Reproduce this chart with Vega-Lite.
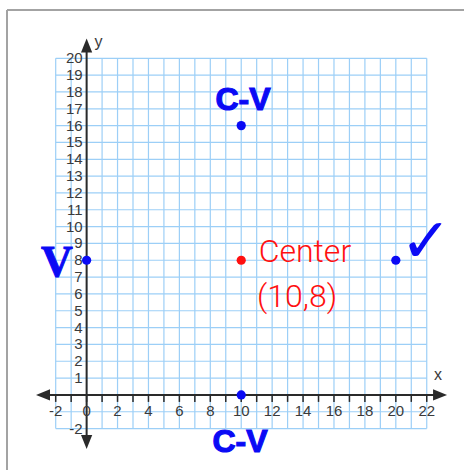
{
  "$schema": "https://vega.github.io/schema/vega-lite/v6.json",
  "width": 464,
  "height": 470,
  "autosize": {"type": "none"},
  "padding": 0,
  "background": "white",
  "config": {"view": {"stroke": null}},
  "datasets": {
    "frame": [
      {"x": -5.15, "x2": 24.41, "y": 22.87, "y2": 22.87},
      {"x": -5.15, "x2": -5.15, "y": 22.87, "y2": -4.46}
    ],
    "gridX": [
      {"v": -2}, {"v": -1}, {"v": 0}, {"v": 1}, {"v": 2}, {"v": 3}, {"v": 4}, {"v": 5}, {"v": 6},
      {"v": 7}, {"v": 8}, {"v": 9}, {"v": 10}, {"v": 11}, {"v": 12}, {"v": 13}, {"v": 14},
      {"v": 15}, {"v": 16}, {"v": 17}, {"v": 18}, {"v": 19}, {"v": 20}, {"v": 21}, {"v": 22}
    ],
    "gridY": [
      {"v": -2}, {"v": -1}, {"v": 0}, {"v": 1}, {"v": 2}, {"v": 3}, {"v": 4}, {"v": 5}, {"v": 6},
      {"v": 7}, {"v": 8}, {"v": 9}, {"v": 10}, {"v": 11}, {"v": 12}, {"v": 13}, {"v": 14},
      {"v": 15}, {"v": 16}, {"v": 17}, {"v": 18}, {"v": 19}, {"v": 20}
    ],
    "axes": [
      {"x": -2.82, "x2": 22.86, "y": 0, "y2": 0},
      {"x": 0, "x2": 0, "y": -2.8, "y2": 20.76}
    ],
    "arrows": [
      {"x": -2.82, "y": 0, "dir": "left"},
      {"x": 22.86, "y": 0, "dir": "right"},
      {"x": 0, "y": 20.76, "dir": "up"},
      {"x": 0, "y": -2.8, "dir": "down"}
    ],
    "xLabels": [
      {"v": -2, "t": "-2"}, {"v": 0, "t": "0"}, {"v": 2, "t": "2"}, {"v": 4, "t": "4"},
      {"v": 6, "t": "6"}, {"v": 8, "t": "8"}, {"v": 10, "t": "10"}, {"v": 12, "t": "12"},
      {"v": 14, "t": "14"}, {"v": 16, "t": "16"}, {"v": 18, "t": "18"}, {"v": 20, "t": "20"},
      {"v": 22, "t": "22"}
    ],
    "yLabels": [
      {"v": -2, "t": "-2"}, {"v": 1, "t": "1"}, {"v": 2, "t": "2"}, {"v": 3, "t": "3"},
      {"v": 4, "t": "4"}, {"v": 5, "t": "5"}, {"v": 6, "t": "6"}, {"v": 7, "t": "7"},
      {"v": 8, "t": "8"}, {"v": 9, "t": "9"}, {"v": 10, "t": "10"}, {"v": 11, "t": "11"},
      {"v": 12, "t": "12"}, {"v": 13, "t": "13"}, {"v": 14, "t": "14"}, {"v": 15, "t": "15"},
      {"v": 16, "t": "16"}, {"v": 17, "t": "17"}, {"v": 18, "t": "18"}, {"v": 19, "t": "19"},
      {"v": 20, "t": "20"}
    ],
    "axisNames": [
      {"x": 22.73, "y": 1.18, "t": "x"},
      {"x": 0.77, "y": 20.97, "t": "y"}
    ],
    "points": [
      {"x": 0, "y": 8, "role": "vertex"},
      {"x": 20, "y": 8, "role": "vertex"},
      {"x": 10, "y": 16, "role": "co-vertex"},
      {"x": 10, "y": 0, "role": "co-vertex"},
      {"x": 10, "y": 8, "role": "center"}
    ],
    "blueNotes": [
      {"x": 10.11, "y": 17.52, "t": "C-V"},
      {"x": 9.92, "y": -2.82, "t": "C-V"}
    ],
    "vertexMarks": [
      {"x": -1.92, "y": 7.85, "t": "V"}
    ],
    "checks": [
      {"x": 21.95, "y": 9.0, "t": "✓"}
    ],
    "redNotes": [
      {"x": 14.12, "y": 8.49, "t": "Center"},
      {"x": 13.61, "y": 5.82, "t": "(10,8)"}
    ]
  },
  "layer": [
    {
      "data": {"name": "frame"},
      "mark": {"type": "rule", "color": "#a3a3a3", "strokeWidth": 2},
      "encoding": {
        "x": {"field": "x", "type": "quantitative", "scale": {"domain": [-5.603, 24.41], "nice": false, "zero": false}, "axis": null},
        "x2": {"field": "x2"},
        "y": {"field": "y", "type": "quantitative", "scale": {"domain": [-4.462, 23.464], "nice": false, "zero": false}, "axis": null},
        "y2": {"field": "y2"}
      }
    },
    {
      "data": {"name": "gridX"},
      "mark": {"type": "rule", "color": "#9ccff7", "strokeWidth": 1.2},
      "encoding": {
        "x": {"field": "v", "type": "quantitative", "scale": {"domain": [-5.603, 24.41], "nice": false, "zero": false}, "axis": null},
        "y": {"datum": -2, "type": "quantitative", "scale": {"domain": [-4.462, 23.464], "nice": false, "zero": false}, "axis": null},
        "y2": {"datum": 20}
      }
    },
    {
      "data": {"name": "gridY"},
      "mark": {"type": "rule", "color": "#9ccff7", "strokeWidth": 1.2},
      "encoding": {
        "y": {"field": "v", "type": "quantitative", "scale": {"domain": [-4.462, 23.464], "nice": false, "zero": false}, "axis": null},
        "x": {"datum": -2, "type": "quantitative", "scale": {"domain": [-5.603, 24.41], "nice": false, "zero": false}, "axis": null},
        "x2": {"datum": 22}
      }
    },
    {
      "data": {"name": "axes"},
      "mark": {"type": "rule", "color": "#2a2a2a", "strokeWidth": 2},
      "encoding": {
        "x": {"field": "x", "type": "quantitative", "scale": {"domain": [-5.603, 24.41], "nice": false, "zero": false}, "axis": null},
        "x2": {"field": "x2"},
        "y": {"field": "y", "type": "quantitative", "scale": {"domain": [-4.462, 23.464], "nice": false, "zero": false}, "axis": null},
        "y2": {"field": "y2"}
      }
    },
    {
      "data": {"name": "gridX"},
      "mark": {"type": "tick", "orient": "vertical", "color": "#2a2a2a", "thickness": 1.5, "size": 7, "yOffset": 3.5, "opacity": 1},
      "encoding": {
        "x": {"field": "v", "type": "quantitative", "scale": {"domain": [-5.603, 24.41], "nice": false, "zero": false}, "axis": null},
        "y": {"datum": 0, "type": "quantitative", "scale": {"domain": [-4.462, 23.464], "nice": false, "zero": false}, "axis": null}
      }
    },
    {
      "data": {"name": "arrows"},
      "mark": {"type": "point", "filled": true, "color": "#2a2a2a", "opacity": 1, "size": 196},
      "encoding": {
        "x": {"field": "x", "type": "quantitative", "scale": {"domain": [-5.603, 24.41], "nice": false, "zero": false}, "axis": null},
        "y": {"field": "y", "type": "quantitative", "scale": {"domain": [-4.462, 23.464], "nice": false, "zero": false}, "axis": null},
        "shape": {
          "field": "dir",
          "type": "nominal",
          "legend": null,
          "scale": {
            "domain": ["left", "right", "up", "down"],
            "range": ["M1,-0.8L-1,0L1,0.8Z", "M-1,-0.8L1,0L-1,0.8Z", "M-0.8,1L0,-1L0.8,1Z", "M-0.8,-1L0,1L0.8,-1Z"]
          }
        }
      }
    },
    {
      "data": {"name": "xLabels"},
      "mark": {"type": "text", "font": "Liberation Sans", "fontSize": 15, "color": "#3a3a3a", "align": "center", "baseline": "middle", "dy": 16},
      "encoding": {
        "x": {"field": "v", "type": "quantitative", "scale": {"domain": [-5.603, 24.41], "nice": false, "zero": false}, "axis": null},
        "y": {"datum": 0, "type": "quantitative", "scale": {"domain": [-4.462, 23.464], "nice": false, "zero": false}, "axis": null},
        "text": {"field": "t", "type": "nominal"}
      }
    },
    {
      "data": {"name": "yLabels"},
      "mark": {"type": "text", "font": "Liberation Sans", "fontSize": 15, "color": "#3a3a3a", "align": "right", "baseline": "middle", "dx": -4},
      "encoding": {
        "y": {"field": "v", "type": "quantitative", "scale": {"domain": [-4.462, 23.464], "nice": false, "zero": false}, "axis": null},
        "x": {"datum": 0, "type": "quantitative", "scale": {"domain": [-5.603, 24.41], "nice": false, "zero": false}, "axis": null},
        "text": {"field": "t", "type": "nominal"}
      }
    },
    {
      "data": {"name": "axisNames"},
      "mark": {"type": "text", "font": "Liberation Sans", "fontSize": 16, "color": "#3a3a3a", "align": "center", "baseline": "middle"},
      "encoding": {
        "x": {"field": "x", "type": "quantitative", "scale": {"domain": [-5.603, 24.41], "nice": false, "zero": false}, "axis": null},
        "y": {"field": "y", "type": "quantitative", "scale": {"domain": [-4.462, 23.464], "nice": false, "zero": false}, "axis": null},
        "text": {"field": "t", "type": "nominal"}
      }
    },
    {
      "data": {"name": "points"},
      "mark": {"type": "point", "shape": "circle", "filled": true, "opacity": 1},
      "encoding": {
        "x": {"field": "x", "type": "quantitative", "scale": {"domain": [-5.603, 24.41], "nice": false, "zero": false}, "axis": null},
        "y": {"field": "y", "type": "quantitative", "scale": {"domain": [-4.462, 23.464], "nice": false, "zero": false}, "axis": null},
        "color": {"field": "role", "type": "nominal", "legend": null, "scale": {"domain": ["vertex", "co-vertex", "center"], "range": ["#0a0af5", "#0a0af5", "#ff1010"]}},
        "size": {"field": "role", "type": "nominal", "legend": null, "scale": {"domain": ["vertex", "co-vertex", "center"], "range": [85, 85, 10]}}
      }
    },
    {
      "data": {"name": "blueNotes"},
      "mark": {"type": "text", "font": "Liberation Sans", "fontWeight": "bold", "fontSize": 32, "color": "#0a0af5", "stroke": "#0a0af5", "strokeWidth": 1.2, "align": "center", "baseline": "middle"},
      "encoding": {
        "x": {"field": "x", "type": "quantitative", "scale": {"domain": [-5.603, 24.41], "nice": false, "zero": false}, "axis": null},
        "y": {"field": "y", "type": "quantitative", "scale": {"domain": [-4.462, 23.464], "nice": false, "zero": false}, "axis": null},
        "text": {"field": "t", "type": "nominal"}
      }
    },
    {
      "data": {"name": "vertexMarks"},
      "mark": {"type": "text", "font": "Liberation Sans Narrow", "fontWeight": "bold", "fontSize": 44, "color": "#0a0af5", "stroke": "#0a0af5", "strokeWidth": 1, "align": "center", "baseline": "middle"},
      "encoding": {
        "x": {"field": "x", "type": "quantitative", "scale": {"domain": [-5.603, 24.41], "nice": false, "zero": false}, "axis": null},
        "y": {"field": "y", "type": "quantitative", "scale": {"domain": [-4.462, 23.464], "nice": false, "zero": false}, "axis": null},
        "text": {"field": "t", "type": "nominal"}
      }
    },
    {
      "data": {"name": "checks"},
      "mark": {"type": "text", "font": "DejaVu Sans", "fontWeight": "bold", "fontSize": 62, "color": "#0a0af5", "align": "center", "baseline": "middle"},
      "encoding": {
        "x": {"field": "x", "type": "quantitative", "scale": {"domain": [-5.603, 24.41], "nice": false, "zero": false}, "axis": null},
        "y": {"field": "y", "type": "quantitative", "scale": {"domain": [-4.462, 23.464], "nice": false, "zero": false}, "axis": null},
        "text": {"field": "t", "type": "nominal"}
      }
    },
    {
      "data": {"name": "redNotes"},
      "mark": {"type": "text", "font": "Roboto", "fontWeight": 300, "fontSize": 32, "color": "#ff1010", "align": "center", "baseline": "middle"},
      "encoding": {
        "x": {"field": "x", "type": "quantitative", "scale": {"domain": [-5.603, 24.41], "nice": false, "zero": false}, "axis": null},
        "y": {"field": "y", "type": "quantitative", "scale": {"domain": [-4.462, 23.464], "nice": false, "zero": false}, "axis": null},
        "text": {"field": "t", "type": "nominal"}
      }
    }
  ]
}
